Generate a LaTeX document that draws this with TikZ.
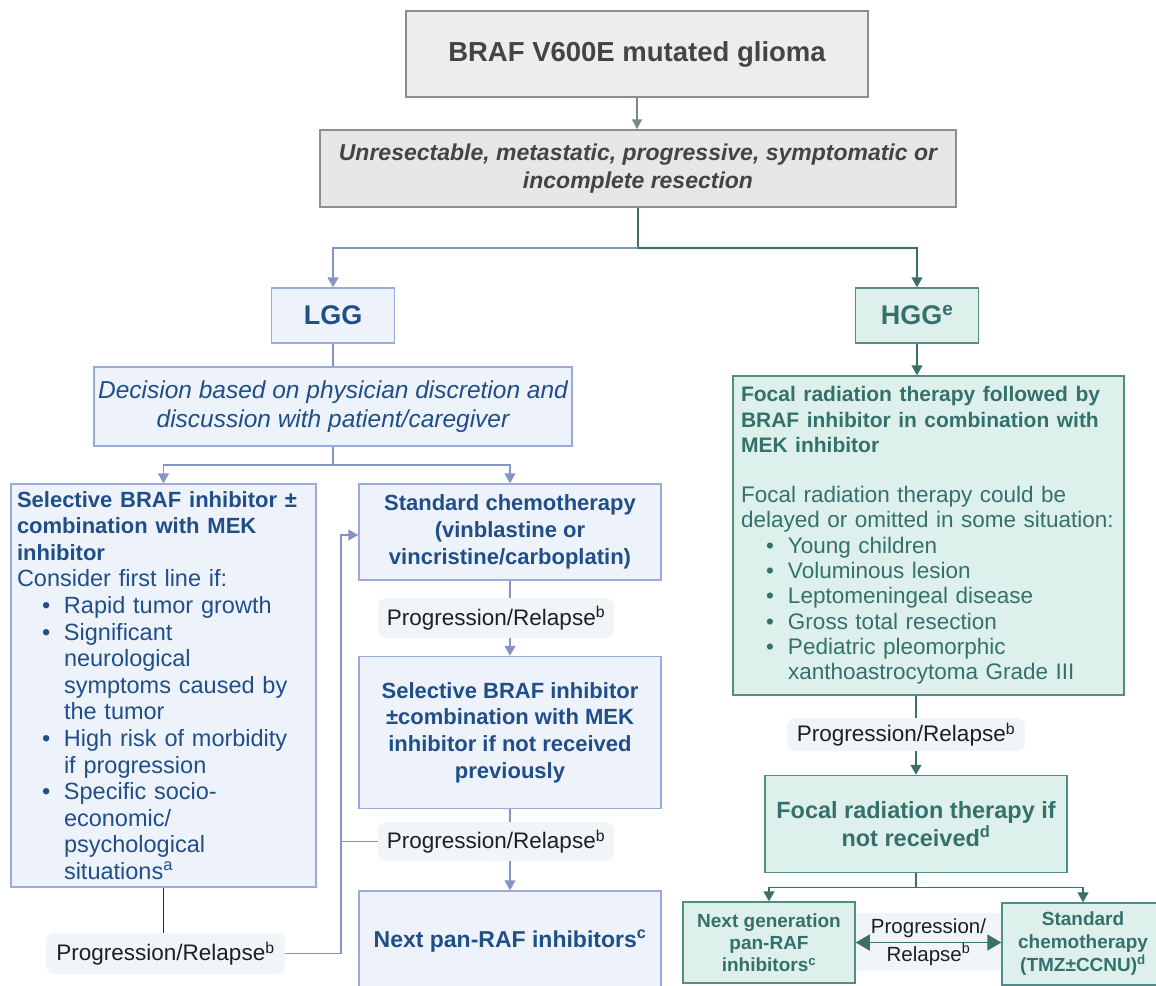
\documentclass[tikz,border=0pt]{standalone}
\usepackage{fontspec}
\setmainfont{Liberation Sans}
\usepackage{tikz}
\usetikzlibrary{arrows.meta,calc}
\usepackage{xcolor}

\definecolor{greyfill}{HTML}{EDEDED}
\definecolor{greyfillb}{HTML}{E7E7E7}
\definecolor{greyline}{HTML}{8E8E8E}
\definecolor{greytext}{HTML}{444444}
\definecolor{greyarrow}{HTML}{7D878C}
\definecolor{lggfill}{HTML}{EEF3FB}
\definecolor{lggline}{HTML}{9BABD7}
\definecolor{lggtext}{HTML}{1F4E89}
\definecolor{lggarrow}{HTML}{8494C3}
\definecolor{hggfill}{HTML}{DDF0EC}
\definecolor{hggline}{HTML}{4F8D86}
\definecolor{hggtext}{HTML}{35716C}
\definecolor{hggarrow}{HTML}{3B6F6B}
\definecolor{pillfill}{HTML}{F1F5F8}

\newcommand{\sz}[2]{\fontsize{#1}{#2}\selectfont}
\newcommand{\hd}[2]{{\bfseries\fontsize{#1}{#1}\selectfont #2}}
\newcommand{\itm}{\hspace*{25pt}\makebox[22pt][l]{\textbullet}}
\newcommand{\cnt}{\hspace*{47pt}}

\tikzstyle{greybox}=[draw=greyline, line width=1.5pt, text=greytext, inner sep=4pt]
\tikzstyle{lggbox}=[draw=lggline, fill=lggfill, line width=1.5pt, text=lggtext, inner sep=4pt]
\tikzstyle{hggbox}=[draw=hggline, fill=hggfill, line width=1.5pt, text=hggtext, inner sep=4pt]
\tikzstyle{pill}=[fill=pillfill, rounded corners=8pt, text=black!88, inner sep=2pt, font=\sz{22.5}{27}]
\tikzstyle{greyarr}=[draw=greyarrow, line width=1.5pt, -{Triangle[length=10pt,width=10pt]}]
\tikzstyle{lggarr}=[draw=lggarrow, line width=1.5pt]
\tikzstyle{hggarr}=[draw=hggarrow, line width=1.5pt]
\tikzstyle{arrowed}=[-{Triangle[length=10pt,width=11pt]}]

\begin{document}
\begin{tikzpicture}[x=1pt, y=-1pt]
\useasboundingbox (0,0) rectangle (1156,985);

\node[greybox, fill=greyfill, minimum width=462, minimum height=86, font=\bfseries\sz{27.5}{33}] (glioma) at (637,54) {BRAF V600E mutated glioma};
\node[greybox, fill=greyfillb, minimum width=636, minimum height=77, align=center, font=\bfseries\itshape\sz{23}{28}] (unres) at (638,168.5) {Unresectable, metastatic, progressive, symptomatic or\\incomplete resection};

\node[lggbox, minimum width=123, minimum height=55, font=\bfseries\sz{27}{30}] (lgg) at (333,315.5) {LGG};
\node[hggbox, minimum width=123, minimum height=55, font=\bfseries\sz{27}{30}] (hgg) at (917,315.5) {HGG\textsuperscript{e}};

\node[lggbox, minimum width=478, minimum height=79, align=center, inner sep=2pt, font=\itshape\sz{24.5}{28.5}] (decide) at (333,406.5) {Decision based on physician discretion and\\discussion with patient/caregiver};

\node[lggbox, minimum height=403, text width=293, align=left, inner xsep=6pt, inner ysep=1pt, font=\sz{23.5}{26.6}] (selbraf) at (163.5,685.5) {\hd{22}{Selective BRAF inhibitor ±}\\
\hd{22}{combination with MEK}\\
\hd{22}{inhibitor}\\
Consider first line if:\\
\itm Rapid tumor growth\\
\itm Significant\\
\cnt neurological\\
\cnt symptoms caused by\\
\cnt the tumor\\
\itm High risk of morbidity\\
\cnt if progression\\
\itm Specific socio-\\
\cnt economic/\\
\cnt psychological\\
\cnt situations\textsuperscript{a}};

\node[lggbox, minimum width=302, minimum height=96, align=center, font=\bfseries\sz{22}{27}] (chemo) at (510,532) {Standard chemotherapy\\(vinblastine or\\vincristine/carboplatin)};
\node[pill, minimum width=236, minimum height=40] (prog1) at (496,618) {Progression/Relapse\textsuperscript{b}};
\node[lggbox, minimum width=302, minimum height=152, align=center, font=\bfseries\sz{22}{26.7}] (selbraf2) at (510,732.5) {Selective BRAF inhibitor\\±combination with MEK\\inhibitor if not received\\previously};
\node[pill, minimum width=236, minimum height=39] (prog2) at (496,841.5) {Progression/Relapse\textsuperscript{b}};
\node[lggbox, minimum width=302, minimum height=100, font=\bfseries\sz{23}{27}] (panraf) at (510,941) {Next pan-RAF inhibitors\textsuperscript{c}};
\node[pill, minimum width=239, minimum height=41] (prog0) at (165.5,953.5) {Progression/Relapse\textsuperscript{b}};

\node[hggbox, minimum height=319, text width=375, align=left, inner xsep=8pt, inner ysep=1pt, font=\sz{22.5}{25.3}] (focal) at (928.5,535.5) {\hd{21}{Focal radiation therapy followed by}\\
\hd{21}{BRAF inhibitor in combination with}\\
\hd{21}{MEK inhibitor}\\[25pt]
Focal radiation therapy could be\\
delayed or omitted in some situation:\\
\itm Young children\\
\itm Voluminous lesion\\
\itm Leptomeningeal disease\\
\itm Gross total resection\\
\itm Pediatric pleomorphic\\
\cnt xanthoastrocytoma Grade III};
\node[pill, minimum width=238, minimum height=33] (prog3) at (906,734.5) {Progression/Relapse\textsuperscript{b}};
\node[hggbox, minimum width=302, minimum height=97, align=center, font=\bfseries\sz{23.5}{28}] (focal2) at (916,824) {Focal radiation therapy if\\not received\textsuperscript{d}};

\node[pill, rounded corners=0pt, minimum width=147, minimum height=58, align=center, font=\sz{20.5}{28}] (progmid) at (928.5,942) {Progression/\\Relapse\textsuperscript{b}};
\node[hggbox, minimum width=172, minimum height=81, align=center, inner sep=2pt, font=\bfseries\sz{19}{22}] (nextgen) at (769,942.5) {Next generation\\pan-RAF\\inhibitors\textsuperscript{c}};
\node[hggbox, minimum width=190, minimum height=82, inner sep=2pt, font=\bfseries\sz{19}{22.5}] (stdchemo) at (1097,944) {\begin{tabular}{@{}c@{\hspace{28pt}}}Standard\\chemotherapy\\(TMZ±CCNU)\textsuperscript{d}\end{tabular}};

\draw[greyarr] (glioma.south) -- (glioma.south |- unres.north);
\coordinate (fork) at ($(unres.south)+(0,40)$);
\draw[hggarr] (unres.south) -- (fork);
\draw[lggarr, arrowed] (fork) -| (lgg.north);
\draw[hggarr, arrowed] (fork) -| (hgg.north);

\draw[lggarr] (lgg.south) -- (lgg.south |- decide.north);
\coordinate (split) at ($(decide.south)+(0,18)$);
\draw[lggarr] (decide.south) -- (split);
\draw[lggarr, arrowed] (split) -| (selbraf.north);
\draw[lggarr, arrowed] (split) -| (chemo.north);
\draw[lggarr] (chemo.south) -- (chemo.south |- prog1.north);
\draw[lggarr, arrowed] (chemo.south |- prog1.south) -- (selbraf2.north);
\draw[lggarr] (selbraf2.south) -- (selbraf2.south |- prog2.north);
\draw[lggarr, arrowed] (selbraf2.south |- prog2.south) -- (panraf.north);
\draw[line width=1.5pt, black!85] (selbraf.south) -- (selbraf.south |- prog0.north);
\coordinate (loop) at (341,535);
\draw[lggarr, arrowed] (prog0.east) -| (loop) -- (loop -| chemo.west);
\draw[lggarr] (prog2.west) -- (prog2.west -| loop);

\draw[hggarr, arrowed] (hgg.south) -- (hgg.south |- focal.north);
\draw[hggarr] (focal2.north |- focal.south) -- (focal2.north |- prog3.north);
\draw[hggarr, arrowed] (focal2.north |- prog3.south) -- (focal2.north);
\coordinate (split2) at ($(focal2.south)+(0,14)$);
\draw[hggarr] (focal2.south) -- (split2);
\draw[hggarr, arrowed] (split2) -| (nextgen.north);
\draw[hggarr, arrowed] (split2) -| ($(stdchemo.north)+(-14,0)$);
\draw[hggarr, {Triangle[length=14pt,width=16pt]}-{Triangle[length=14pt,width=16pt]}] (nextgen.east) -- (nextgen.east -| stdchemo.west);
\end{tikzpicture}
\end{document}
